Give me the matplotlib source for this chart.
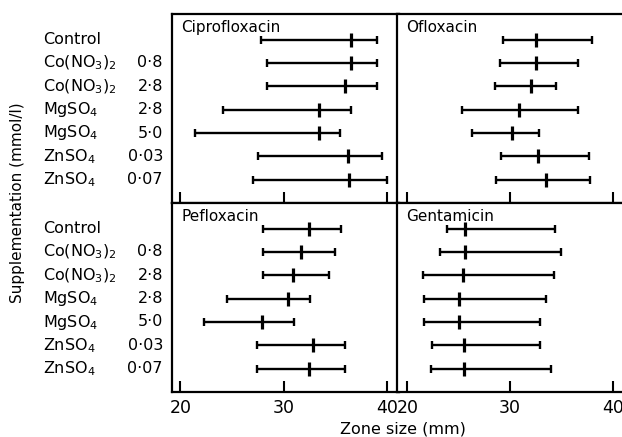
import matplotlib
matplotlib.use('Agg')
import matplotlib.pyplot as plt
import matplotlib.transforms as mtransforms

plt.rcParams['font.family'] = 'DejaVu Sans'
plt.rcParams['mathtext.default'] = 'regular'

# row labels (same for every panel)
compounds = ['Control', 'Co(NO$_3$)$_2$', 'Co(NO$_3$)$_2$', 'MgSO$_4$',
             'MgSO$_4$', 'ZnSO$_4$', 'ZnSO$_4$']
concentrations = ['', '0·8', '2·8', '2·8', '5·0', '0·03', '0·07']

# zone size (mm): mean, lower end, upper end
cipro_mean = [36.5, 36.5, 35.9, 33.4, 33.4, 36.2, 36.3]
cipro_low = [27.8, 28.4, 28.4, 24.1, 21.4, 27.5, 27.0]
cipro_high = [39.0, 39.0, 39.0, 36.5, 35.4, 39.5, 40.0]

oflox_mean = [32.5, 32.5, 32.0, 30.9, 30.2, 32.7, 33.5]
oflox_low = [29.3, 29.0, 28.5, 25.3, 26.3, 29.1, 28.6]
oflox_high = [38.0, 36.6, 34.5, 36.6, 32.8, 37.7, 37.8]

peflox_mean = [32.4, 31.7, 30.9, 30.4, 27.9, 32.8, 32.4]
peflox_low = [28.0, 28.0, 28.0, 24.5, 22.3, 27.4, 27.4]
peflox_high = [35.5, 35.0, 34.4, 32.5, 31.0, 35.9, 35.9]

genta_mean = [25.6, 25.6, 25.4, 25.0, 25.0, 25.5, 25.5]
genta_low = [23.9, 23.2, 21.5, 21.6, 21.6, 22.4, 22.3]
genta_high = [34.4, 35.0, 34.3, 33.5, 32.9, 32.9, 34.0]

panels = [
    ('Ciprofloxacin', cipro_mean, cipro_low, cipro_high),
    ('Ofloxacin', oflox_mean, oflox_low, oflox_high),
    ('Pefloxacin', peflox_mean, peflox_low, peflox_high),
    ('Gentamicin', genta_mean, genta_low, genta_high),
]

fig = plt.figure(figsize=(6.22, 4.37), dpi=100)
W, H = 622.0, 437.0
rects = [
    (172 / W, 1 - 203 / H, 227 / W, 189 / H),
    (397 / W, 1 - 203 / H, 228 / W, 189 / H),
    (172 / W, 1 - 392 / H, 227 / W, 189 / H),
    (397 / W, 1 - 392 / H, 228 / W, 189 / H),
]
xlims = [(19.2, 41.15), (19.0, 41.2), (19.2, 41.15), (19.0, 41.2)]

rows = list(range(len(compounds)))
axes = []
for i, (name, mean, low, high) in enumerate(panels):
    ax = fig.add_axes(rects[i])
    axes.append(ax)
    err = [[m - l for m, l in zip(mean, low)], [h - m for m, h in zip(mean, high)]]
    ax.errorbar(mean, rows, xerr=err, fmt='none', ecolor='black',
                elinewidth=1.7, capsize=3.2, capthick=1.7)
    ax.plot(mean, rows, linestyle='none', marker='|', markersize=10,
            markeredgewidth=2.3, color='black')
    ax.set_xlim(*xlims[i])
    ax.set_ylim(7.0, -1.1)
    ax.set_xticks([20, 30, 40])
    ax.set_yticks([])
    ax.tick_params(axis='x', direction='in', length=8, width=1.5,
                   labelsize=12.5, pad=5)
    if i < 2:
        ax.tick_params(axis='x', labelbottom=False)
    for s in ax.spines.values():
        s.set_linewidth(1.6)
    if i % 2 == 1:
        ax.spines['right'].set_visible(False)
    ax.text(0.04, 0.93, name, transform=ax.transAxes, fontsize=11,
            ha='left', va='center')

# row labels on the left, for both top and bottom panels
for ax in (axes[0], axes[2]):
    trans = mtransforms.blended_transform_factory(fig.transFigure, ax.transData)
    for r, (c, v) in enumerate(zip(compounds, concentrations)):
        fig.text(43 / W, r, c, transform=trans, ha='left', va='center', fontsize=11.5)
        fig.text(163 / W, r, v, transform=trans, ha='right', va='center', fontsize=11.5)

fig.text(18 / W, 1 - 203 / H, 'Supplementation (mmol/l)', rotation=90,
         ha='center', va='center', fontsize=11)
fig.text(403 / W, 1 - 429 / H, 'Zone size (mm)', ha='center', va='center',
         fontsize=11.5)

fig.savefig('out.png', dpi=100)
